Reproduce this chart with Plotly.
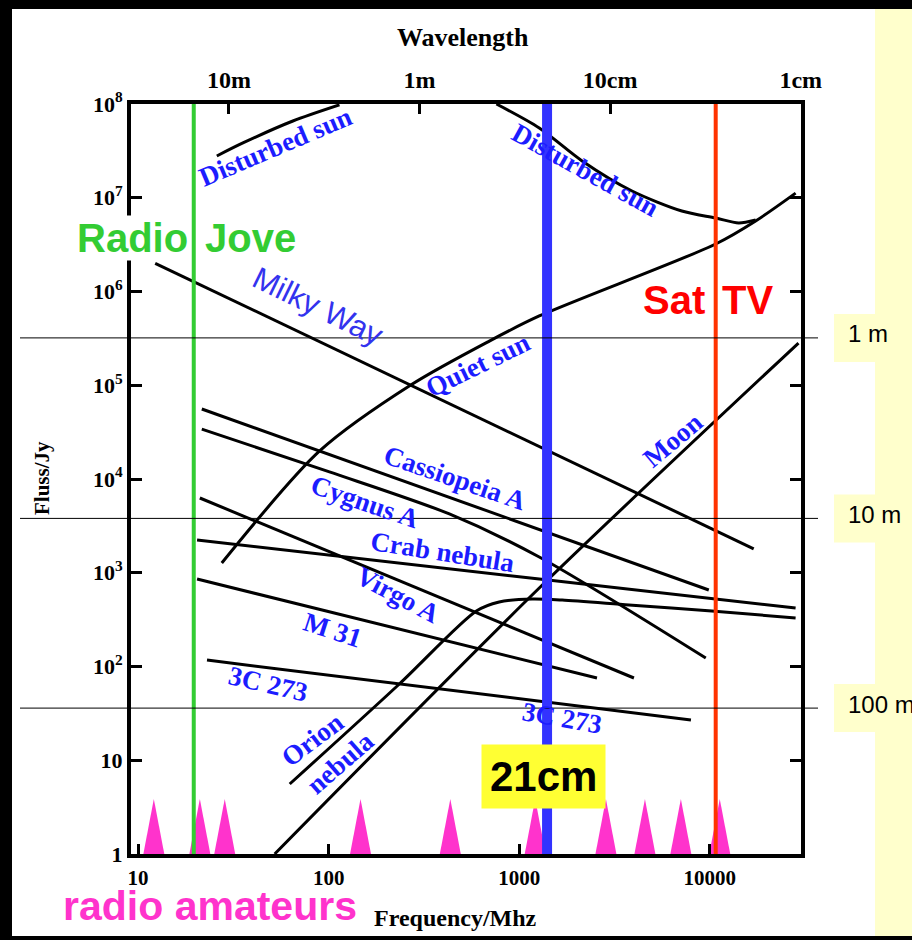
import numpy as np
import plotly.graph_objects as go

# ---------------- data (frequency in MHz, flux density in Jy) ----------------
disturbed_sun_low_f = [25.9, 35.5, 64.9, 114]
disturbed_sun_low_s = [2.79e7, 3.84e7, 6.59e7, 9.8e7]
disturbed_sun_high_f = [759, 1274, 2138, 3908, 7134, 10740, 14180, 17400]
disturbed_sun_high_s = [1.0e8, 5.55e7, 2.47e7, 1.18e7, 7.22e6, 6.08e6, 5.38e6, 5.79e6]
quiet_sun_f = [27.5, 89.7, 275, 697, 1274, 10740, 17400, 28200]
quiet_sun_s = [1270, 1.99e4, 1.03e5, 2.96e5, 5.48e5, 3.21e6, 5.65e6, 1.12e7]
milky_way_f = [12.3, 17000]
milky_way_s = [2.0e6, 1.8e3]
cas_a_f = [21.6, 9880]
cas_a_s = [5.58e4, 655]
cyg_a_f = [21.6, 101, 430, 1274, 9526]
cyg_a_s = [3.41e4, 1.19e4, 4235, 1472, 123]
crab_f = [20.4, 1274, 28200]
crab_s = [2236, 858, 421]
virgo_f = [21.1, 4000]
virgo_s = [6270, 75.4]
m31_f = [20.4, 2559]
m31_s = [858, 75.4]
c273_f = [23.0, 7960]
c273_s = [117, 26.9]
orion_f = [62.5, 235, 596, 785, 1169, 1680, 3767, 10230, 28200]
orion_s = [5.58, 65.1, 391, 488, 525, 512, 453, 391, 329]
moon_f = [52.1, 1274, 29200]
moon_s = [1.0, 687, 2.82e5]

amateur_bands = [12.1, 21.1, 28.5, 147, 435, 1213, 2851, 4567, 7050, 11280]
radio_jove_f = 19.6
hydrogen_f = 1400
sat_tv_f = 10740

dish_levels = [3.2e5, 3.8e3, 36]
dish_labels = ["1 m", "10 m", "100 m"]

freq_ticks = [10, 100, 1000, 10000]
freq_ticktext = ["10", "100", "1000", "10000"]
wave_ticks = [30, 300, 3000, 30000]
wave_ticktext = ["10m", "1m", "10cm", "1cm"]
flux_ticks = [1, 10, 100, 1e3, 1e4, 1e5, 1e6, 1e7, 1e8]
flux_ticktext = ["1", "10", "10<sup>2</sup>", "10<sup>3</sup>", "10<sup>4</sup>",
                 "10<sup>5</sup>", "10<sup>6</sup>", "10<sup>7</sup>", "10<sup>8</sup>"]

# ---------------- layout geometry ----------------
W, H = 912, 940
ML, MR, MT, MB = 131, 111, 104, 86
PW, PH = W - ML - MR, H - MT - MB
XR = [0.963, np.log10(30100)]
YR = [0, 8]


def px(x):
    return (x - ML) / PW


def py(y):
    return (H - MB - y) / PH


SERIF = "Liberation Serif"
SANS = "Liberation Sans"
LBLUE = "#1c1cff"

fig = go.Figure()

curves = [
    (disturbed_sun_low_f, disturbed_sun_low_s),
    (disturbed_sun_high_f, disturbed_sun_high_s),
    (quiet_sun_f, quiet_sun_s),
    (milky_way_f, milky_way_s),
    (cas_a_f, cas_a_s),
    (cyg_a_f, cyg_a_s),
    (crab_f, crab_s),
    (virgo_f, virgo_s),
    (m31_f, m31_s),
    (c273_f, c273_s),
    (orion_f, orion_s),
    (moon_f, moon_s),
]
for f, s in curves:
    fig.add_trace(go.Scatter(x=f, y=s, mode="lines",
                             line=dict(color="black", width=3, shape="spline", smoothing=0.8),
                             hoverinfo="skip", showlegend=False))

# radio amateur band triangles
tri_half = 0.055
tri_tip = 3.86
for f in amateur_bands:
    fig.add_trace(go.Scatter(x=[f * 10 ** -tri_half, f, f * 10 ** tri_half, f * 10 ** -tri_half],
                             y=[1, tri_tip, 1, 1], mode="lines", fill="toself",
                             fillcolor="#ff33cc", line=dict(width=0, color="#ff33cc"),
                             hoverinfo="skip", showlegend=False))

# vertical frequency markers
for f, col, w in [(radio_jove_f, "#33cc33", 4), (hydrogen_f, "#3333ff", 10), (sat_tv_f, "#ff3300", 4)]:
    fig.add_trace(go.Scatter(x=[f, f], y=[1, 1e8], mode="lines",
                             line=dict(color=col, width=w), hoverinfo="skip", showlegend=False))

# invisible trace for top axis
fig.add_trace(go.Scatter(x=[100], y=[1], xaxis="x2", mode="markers",
                         marker=dict(opacity=0), hoverinfo="skip", showlegend=False))

shapes = []
# white panel and yellow side panel
shapes.append(dict(type="rect", xref="paper", yref="paper", x0=px(12), x1=px(875),
                   y0=py(936), y1=py(9), fillcolor="white", line=dict(width=0), layer="below"))
shapes.append(dict(type="rect", xref="paper", yref="paper", x0=px(875), x1=px(915),
                   y0=py(936), y1=py(9), fillcolor="#ffffcc", line=dict(width=0), layer="below"))
# horizontal reference lines
for lev in dish_levels:
    yy = (np.log10(lev) - YR[0]) / (YR[1] - YR[0])
    shapes.append(dict(type="line", xref="paper", yref="paper", x0=px(20), x1=px(818),
                       y0=yy, y1=yy, line=dict(color="black", width=1), layer="above"))
    shapes.append(dict(type="rect", xref="paper", yref="paper", x0=px(834), x1=px(876),
                       y0=yy - 24 / PH, y1=yy + 24 / PH, fillcolor="#ffffcc",
                       line=dict(width=0), layer="below"))

annotations = []
for lev, lab in zip(dish_levels, dish_labels):
    yy = (np.log10(lev) - YR[0]) / (YR[1] - YR[0])
    annotations.append(dict(text=lab, xref="paper", yref="paper", x=px(846), y=yy + 4 / PH,
                            xanchor="left", yanchor="middle", showarrow=False,
                            font=dict(family=SANS, size=24, color="black")))

labels = [
    ("Disturbed sun", 275, 147, -23),
    ("Disturbed sun", 585, 170, 29),
    ("Quiet sun", 478, 365, -26),
    ("Cassiopeia A", 455, 478, 19),
    ("Cygnus A", 365, 502, 19),
    ("Crab nebula", 442, 552, 9),
    ("Virgo A", 398, 595, 28),
    ("M 31", 332, 630, 18),
    ("3C 273", 268, 684, 13),
    ("3C 273", 562, 718, 10),
    ("Orion", 312, 740, -37),
    ("nebula", 340, 763, -41),
    ("Moon", 673, 440, -40),
]
for t, cx, cy, ang in labels:
    annotations.append(dict(text=t, xref="paper", yref="paper", x=px(cx), y=py(cy),
                            xanchor="center", yanchor="middle", textangle=ang, showarrow=False,
                            font=dict(family=SERIF, size=27, color=LBLUE, weight="bold")))
annotations.append(dict(text="Milky Way", xref="paper", yref="paper", x=px(318), y=py(306),
                        xanchor="center", yanchor="middle", textangle=26, showarrow=False,
                        font=dict(family=SANS, size=31, color="#3333ee")))

# big coloured labels
annotations.append(dict(text="Radio", xref="paper", yref="paper", x=px(189), y=py(238),
                        xanchor="right", yanchor="middle", showarrow=False, bgcolor="white",
                        borderpad=0, font=dict(family=SANS, size=40, color="#33cc33", weight="bold")))
annotations.append(dict(text="Jove", xref="paper", yref="paper", x=px(203), y=py(238),
                        xanchor="left", yanchor="middle", showarrow=False,
                        font=dict(family=SANS, size=40, color="#33cc33", weight="bold")))
annotations.append(dict(text="Sat", xref="paper", yref="paper", x=px(707), y=py(300),
                        xanchor="right", yanchor="middle", showarrow=False,
                        font=dict(family=SANS, size=40, color="#ff0000", weight="bold")))
annotations.append(dict(text="TV", xref="paper", yref="paper", x=px(720), y=py(300),
                        xanchor="left", yanchor="middle", showarrow=False,
                        font=dict(family=SANS, size=40, color="#ff0000", weight="bold")))
annotations.append(dict(text="21cm", xref="paper", yref="paper", x=px(543), y=py(776),
                        xanchor="center", yanchor="middle", showarrow=False, bgcolor="#ffff33",
                        borderpad=8, font=dict(family=SANS, size=42, color="black", weight="bold")))
annotations.append(dict(text="radio amateurs", xref="paper", yref="paper", x=px(210), y=py(906),
                        xanchor="center", yanchor="middle", showarrow=False,
                        font=dict(family=SANS, size=41, color="#ff33cc", weight="bold")))

# axis titles
annotations.append(dict(text="Wavelength", xref="paper", yref="paper", x=px(463), y=py(38),
                        xanchor="center", yanchor="middle", showarrow=False,
                        font=dict(family=SERIF, size=26, color="black", weight="bold")))
annotations.append(dict(text="Frequency/Mhz", xref="paper", yref="paper", x=px(455), y=py(918),
                        xanchor="center", yanchor="middle", showarrow=False,
                        font=dict(family=SERIF, size=24, color="black", weight="bold")))
annotations.append(dict(text="Fluss/Jy", xref="paper", yref="paper", x=px(42), y=py(478),
                        xanchor="center", yanchor="middle", textangle=-90, showarrow=False,
                        font=dict(family=SERIF, size=21, color="black", weight="bold")))

fig.update_layout(
    width=W, height=H,
    margin=dict(l=ML, r=MR, t=MT, b=MB, pad=0),
    paper_bgcolor="black", plot_bgcolor="white",
    showlegend=False,
    shapes=shapes, annotations=annotations,
    xaxis=dict(type="log", range=XR, showgrid=False, zeroline=False,
               showline=True, linewidth=4, linecolor="black", mirror=True,
               ticks="inside", ticklen=10, tickwidth=3, tickcolor="black",
               tickvals=freq_ticks, ticktext=freq_ticktext,
               tickfont=dict(family=SERIF, size=21, color="black", weight="bold"),
               ticklabelstandoff=2),
    xaxis2=dict(type="log", range=XR, overlaying="x", side="top", showgrid=False,
                zeroline=False, showline=False, ticks="inside", ticklen=10, tickwidth=3,
                tickcolor="black", tickvals=wave_ticks, ticktext=wave_ticktext,
                tickfont=dict(family=SERIF, size=24, color="black", weight="bold"),
                ticklabelstandoff=10),
    yaxis=dict(type="log", range=YR, showgrid=False, zeroline=False,
               showline=True, linewidth=4, linecolor="black", mirror="ticks",
               ticks="inside", ticklen=11, tickwidth=3, tickcolor="black",
               tickvals=flux_ticks, ticktext=flux_ticktext,
               tickfont=dict(family=SERIF, size=22, color="black", weight="bold")),
)

fig.write_html(
    "out.html",
    config={"displayModeBar": False},
    post_script="document.body.style.margin='0px';document.body.style.padding='0px';"
                "document.body.style.background='black';document.body.style.overflow='hidden';",
)
